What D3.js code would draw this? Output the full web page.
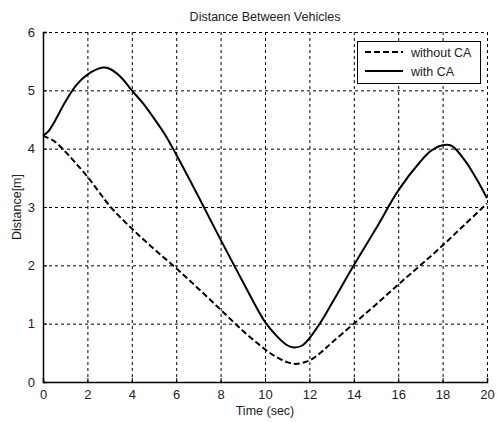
<!DOCTYPE html>
<html>
<head>
<meta charset="utf-8">
<script src="https://cdn.jsdelivr.net/npm/d3@7"></script>
<style>
  body { margin: 0; background: #fff; }
  svg text { font-family: "Liberation Sans", Arial, sans-serif; fill: #222; }
</style>
</head>
<body>
<div id="chart"></div>
<script>
// time (sec) and distance (m)
var timeWith = [0, 0.25, 0.5, 1, 1.5, 2, 2.7, 3, 3.5, 4, 4.5, 5, 5.5, 6, 7, 8, 9, 10, 10.5, 11, 11.3, 11.7, 12, 12.5, 13, 14, 15, 16, 17, 17.5, 18, 18.4, 19, 19.5, 20];
var distWith = [4.22, 4.3, 4.45, 4.8, 5.09, 5.27, 5.39, 5.37, 5.23, 5.0, 4.78, 4.52, 4.24, 3.9, 3.18, 2.44, 1.72, 1.03, 0.8, 0.63, 0.59, 0.63, 0.75, 1.02, 1.34, 2.0, 2.63, 3.28, 3.78, 3.97, 4.06, 4.05, 3.8, 3.5, 3.15];
var timeWithout = [0, 0.5, 1, 1.5, 2, 2.5, 3, 4, 5, 6, 7, 8, 9, 10, 10.5, 11, 11.4, 12, 12.5, 13, 14, 15, 16, 17, 18, 19, 20];
var distWithout = [4.22, 4.13, 3.95, 3.74, 3.52, 3.27, 3.02, 2.63, 2.28, 1.95, 1.6, 1.24, 0.88, 0.56, 0.43, 0.34, 0.31, 0.37, 0.5, 0.67, 1.0, 1.33, 1.67, 2.0, 2.34, 2.7, 3.06];
var xTicks = [0, 2, 4, 6, 8, 10, 12, 14, 16, 18, 20];
var yTicks = [0, 1, 2, 3, 4, 5, 6];
var legendLabels = ["without CA", "with CA"];

var width = 497, height = 422;
var margin = {left: 43, top: 32, right: 10, bottom: 40};

var svg = d3.select("#chart").append("svg")
    .attr("width", width)
    .attr("height", height);

var x = d3.scaleLinear().domain([0, 20]).range([margin.left, width - margin.right]);
var y = d3.scaleLinear().domain([0, 6]).range([height - margin.bottom, margin.top]);

// grid
svg.append("g").selectAll("line.vg")
    .data(xTicks.slice(1))
    .enter().append("line")
    .attr("x1", d => x(d) + 0.5).attr("x2", d => x(d) + 0.5)
    .attr("y1", y(6)).attr("y2", y(0))
    .attr("stroke", "#000").attr("stroke-width", 1)
    .attr("stroke-dasharray", "3,3");

svg.append("g").selectAll("line.hg")
    .data(yTicks.slice(1))
    .enter().append("line")
    .attr("x1", x(0)).attr("x2", x(20))
    .attr("y1", d => y(d) + 0.5).attr("y2", d => y(d) + 0.5)
    .attr("stroke", "#000").attr("stroke-width", 1)
    .attr("stroke-dasharray", "3,3");

// axes
var xAxis = d3.axisBottom(x).tickValues(xTicks).tickFormat(d3.format("d")).tickSize(-4).tickPadding(8);
var yAxis = d3.axisLeft(y).tickValues(yTicks).tickFormat(d3.format("d")).tickSize(-4).tickPadding(8);

var gx = svg.append("g")
    .attr("transform", `translate(0, ${y(0)})`)
    .call(xAxis);
var gy = svg.append("g")
    .attr("transform", `translate(${x(0)}, 0)`)
    .call(yAxis);

[gx, gy].forEach(g => {
    g.select(".domain").attr("stroke", "#000").attr("stroke-width", 1.5);
    g.selectAll(".tick line").attr("stroke", "#000");
    g.selectAll(".tick text").style("font-size", "13px").attr("fill", "#222");
});

// curves
var line = d3.line()
    .x(d => x(d[0]))
    .y(d => y(d[1]))
    .curve(d3.curveCatmullRom.alpha(0.5));

svg.append("path")
    .datum(d3.zip(timeWithout, distWithout))
    .attr("d", line)
    .attr("fill", "none")
    .attr("stroke", "#000")
    .attr("stroke-width", 2)
    .attr("stroke-dasharray", "6,3");

svg.append("path")
    .datum(d3.zip(timeWith, distWith))
    .attr("d", line)
    .attr("fill", "none")
    .attr("stroke", "#000")
    .attr("stroke-width", 2);

// title and labels
svg.append("text")
    .attr("x", (x(0) + x(20)) / 2)
    .attr("y", 21)
    .style("text-anchor", "middle")
    .style("font-size", "12.5px")
    .text("Distance Between Vehicles");

svg.append("text")
    .attr("x", (x(0) + x(20)) / 2)
    .attr("y", 415)
    .style("text-anchor", "middle")
    .style("font-size", "12.5px")
    .text("Time (sec)");

svg.append("text")
    .attr("transform", `translate(21, ${(y(0) + y(6)) / 2}) rotate(-90)`)
    .style("text-anchor", "middle")
    .style("font-size", "12.5px")
    .text("Distance[m]");

// legend
var lg = svg.append("g");
lg.append("rect")
    .attr("x", 357.5).attr("y", 41.5)
    .attr("width", 123).attr("height", 42)
    .attr("fill", "#fff").attr("stroke", "#000").attr("stroke-width", 1);

legendLabels.forEach((lbl, i) => {
    var yy = 52 + i * 19;
    lg.append("line")
        .attr("x1", 365).attr("x2", 403)
        .attr("y1", yy).attr("y2", yy)
        .attr("stroke", "#000").attr("stroke-width", 2)
        .attr("stroke-dasharray", i === 0 ? "6,3" : null);
    lg.append("text")
        .attr("x", 411).attr("y", yy + 4.5)
        .style("font-size", "12.5px")
        .text(lbl);
});
</script>
</body>
</html>
